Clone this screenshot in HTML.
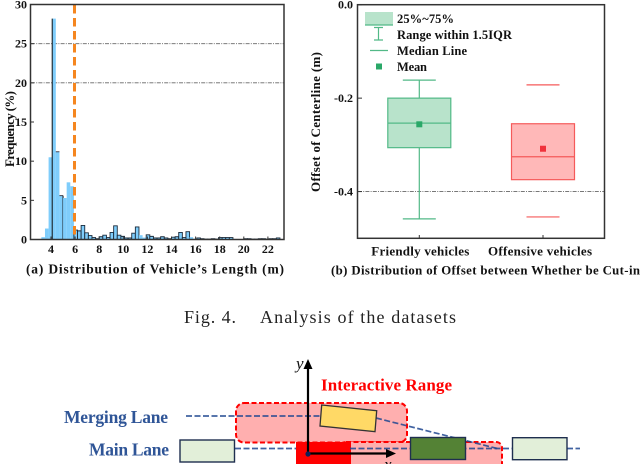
<!DOCTYPE html>
<html>
<head>
<meta charset="utf-8">
<style>
html,body{margin:0;padding:0;background:#fff;width:640px;height:464px;overflow:hidden}
svg{display:block;font-family:"Liberation Serif",serif;filter:blur(0.3px)}
</style>
</head>
<body>
<svg id="root" width="640" height="464" viewBox="0 0 640 464" xmlns="http://www.w3.org/2000/svg">
  <g id="hist"></g>
  <g id="box"></g>

  <text x="184" y="323" font-size="18" fill="#222" textLength="52">Fig. 4.</text>
  <text x="260" y="323" font-size="18" fill="#222" textLength="196">Analysis of the datasets</text>

  <g>
    <rect x="236" y="403" width="171" height="39.5" rx="8" fill="#ffafaf" stroke="#f00" stroke-width="2" stroke-dasharray="5 2.5"/>
    <rect x="340" y="442" width="162" height="30" rx="6" fill="#ffafaf" stroke="#f00" stroke-width="2" stroke-dasharray="5 2.5"/>
    <rect x="296" y="442" width="55" height="22" fill="#f00"/>
    <path d="M186 416H322M376 418L498 448.7" fill="none" stroke="#1f4690" stroke-width="1.7" stroke-dasharray="6 2.5" opacity=".85"/>
    <path d="M235 448.5H296M350 448.5H512M567 448.5H580" fill="none" stroke="#1f4690" stroke-width="1.7" stroke-dasharray="6 2.5" opacity=".85"/>
    <rect x="180" y="440" width="54.5" height="22" fill="#e2efd9" stroke="#1f2f4f" stroke-width="1.4"/>
    <rect x="410.5" y="437.5" width="55" height="22" fill="#548235" stroke="#1f2f4f" stroke-width="1.4"/>
    <rect x="512.5" y="437.7" width="54.5" height="22" fill="#e2efd9" stroke="#1f2f4f" stroke-width="1.4"/>
    <polygon points="321.7,405 376.7,410.7 375,431.7 320,426" fill="#ffd966" stroke="#333" stroke-width="1.3"/>
    <path d="M308 454V367" stroke="#000" stroke-width="2.2"/>
    <polygon points="308,359 303.5,369 312.5,369" fill="#000"/>
    <path d="M308 453.5H388" stroke="#000" stroke-width="2.2"/>
    <polygon points="396,453.5 386,449 386,458" fill="#000"/>
    <circle cx="308" cy="454" r="2.6" fill="#10205a"/>
    <text x="296" y="369" font-size="17" font-style="italic" fill="#111">y</text>
    <text x="384" y="470" font-size="17" font-style="italic" fill="#111">x</text>
    <text x="64" y="423" font-size="17.5" font-weight="bold" fill="#2f5597" textLength="104">Merging Lane</text>
    <text x="89" y="455.5" font-size="17.5" font-weight="bold" fill="#2f5597" textLength="80">Main Lane</text>
    <text x="321" y="390.5" font-size="17" font-weight="bold" fill="#f00" textLength="131">Interactive Range</text>
  </g>
</svg>
<script>
var NS = "http://www.w3.org/2000/svg";

// Histogram data
var histBinStart = 3.2;
var histBinWidth = 0.3;
var histValues = [0.3,1.4,10.5,28.2,11.2,5.6,5.3,7.3,6.8,1.2,1.1,1.8,0.85,0.5,0.25,0.1,0.35,0.55,0.25,0.9,1.75,0.55,0.4,0.2,0.2,0.8,1.6,0.55,0.25,0.6,0.4,0.2,0.2,0.35,0.2,0.1,0.3,0.35,0.9,0.25,1.0,0.3,0.1,0.2,0.1,0.05,0.05,0.1,0.05,0.25,0.25,0.25,0.25,0.05,0.05,0.05,0.1,0.1,0.05,0.05,0.1,0.1,0.05,0.1,0.1,0.2];
var histLightBins = [1,2,6,7,8,27,28,41,42,53,54,55];
var histXTicks = [4,6,8,10,12,14,16,18,20,22];
var histYTicks = [0,5,10,15,20,25,30];
var histRefLines = [20,25];
var histCutoff = 5.95;

// Box plot data
var boxCategories = ["Friendly vehicles","Offensive vehicles"];
var boxQ1 = [-0.306,-0.3745];
var boxQ3 = [-0.2,-0.2548];
var boxMedian = [-0.2535,-0.3254];
var boxMean = [-0.256,-0.3083];
var boxLow = [-0.4585,-0.4543];
var boxHigh = [-0.1615,-0.1716];
var boxShowStem = [true,false];
var boxYTicks = [0,-0.2,-0.4];
var boxYLabels = ["0.0","-0.2","-0.4"];
var boxRefLine = -0.4;

function histX(v){ return 51 + (v - 4) * 12.05; }
function histY(v){ return 239.5 - v * 7.833; }
function boxY(v){ return 4.7 - v * 467.2; }
function boxX(i){ return 419.3 + i * 123.7; }

function add(parent, tag, attrs, text){
  var el = document.createElementNS(NS, tag);
  for (var k in attrs) el.setAttribute(k, attrs[k]);
  if (text !== undefined) el.textContent = text;
  parent.appendChild(el);
  return el;
}

var hist = document.getElementById("hist");
var box = document.getElementById("box");
var el;

// ---- histogram ----
histRefLines.forEach(function(v){
  el = add(hist, "line", {x1:31, x2:284, y1:histY(v), y2:histY(v), stroke:"#666", "stroke-width":0.9, "stroke-dasharray":"4 1.2 1 1.2"});
  
  
});
histValues.forEach(function(v, i){
  var x0 = histX(histBinStart + i * histBinWidth);
  var x1 = histX(histBinStart + (i + 1) * histBinWidth);
  el = add(hist, "rect", {x:x0, y:histY(v), width:x1 - x0, height:239.5 - histY(v), fill:"#7fcdfb"});
  
  
  if (i >= 9 && histLightBins.indexOf(i) < 0) {
    el = add(hist, "path", {d:"M"+x0+" 239.5V"+histY(v)+"H"+x1+"V239.5", fill:"none", stroke:"#1a2a3a", "stroke-width":0.9});
    
    
  }
  if (i === 3) {
    el = add(hist, "line", {x1:x0, x2:x0, y1:histY(v), y2:239.5, stroke:"#111", "stroke-width":1});
    
    
  }
  if (i === 4 || i === 5) {
    el = add(hist, "line", {x1:x0, x2:x1, y1:histY(v), y2:histY(v), stroke:"#334", "stroke-width":0.9});
    
    
  }
  if (i === 5) {
    el = add(hist, "line", {x1:x1, x2:x1, y1:histY(v), y2:239.5, stroke:"#111", "stroke-width":1});
    
    
  }
});
el = add(hist, "line", {x1:histX(histCutoff), x2:histX(histCutoff), y1:5, y2:239, stroke:"#f5861f", "stroke-width":3, "stroke-dasharray":"8.5 4.5"});


el = add(hist, "rect", {x:30.5, y:4.5, width:253.5, height:235, fill:"none", stroke:"#333", "stroke-width":1.5});


histYTicks.forEach(function(v){
  el = add(hist, "line", {x1:30.5, x2:34, y1:histY(v), y2:histY(v), stroke:"#333", "stroke-width":1});
  
  
  el = add(hist, "text", {x:27, y:histY(v) + 4, "text-anchor":"end", "font-size":12, "font-weight":"bold", fill:"#111"}, String(v));
  
  
});
histXTicks.forEach(function(v){
  el = add(hist, "line", {x1:histX(v), x2:histX(v), y1:239.5, y2:236.5, stroke:"#333", "stroke-width":1});
  
  
  el = add(hist, "text", {x:histX(v), y:253, "text-anchor":"middle", "font-size":12, "font-weight":"bold", fill:"#111"}, String(v));
  
  
});
el = add(hist, "text", {transform:"translate(14,129) rotate(-90)", "text-anchor":"middle", "font-size":13, "font-weight":"bold", fill:"#111", textLength:76}, "Frequency (%)");


el = add(hist, "text", {x:26, y:273.5, "font-size":13.5, "font-weight":"bold", fill:"#111", textLength:258}, "(a) Distribution of Vehicle\u2019s Length (m)");



// ---- box plot ----
el = add(box, "line", {x1:358, x2:605, y1:boxY(boxRefLine), y2:boxY(boxRefLine), stroke:"#666", "stroke-width":0.9, "stroke-dasharray":"4 1.2 1 1.2"});


var boxStroke = ["#52b987","#f55a5a"];
var boxFill = ["#b8e3cb","#ffb8b8"];
var boxMeanColor = ["#2aa868","#f0323c"];
boxCategories.forEach(function(name, i){
  var cx = boxX(i);
  var c = boxStroke[i];
  if (boxShowStem[i]) {
    el = add(box, "line", {x1:cx, x2:cx, y1:boxY(boxHigh[i]), y2:boxY(boxLow[i]), stroke:c, "stroke-width":1.2});
    
    
  }
  el = add(box, "line", {x1:cx - 16.5, x2:cx + 16.5, y1:boxY(boxHigh[i]), y2:boxY(boxHigh[i]), stroke:c, "stroke-width":1.2});
  
  
  el = add(box, "line", {x1:cx - 16.5, x2:cx + 16.5, y1:boxY(boxLow[i]), y2:boxY(boxLow[i]), stroke:c, "stroke-width":1.2});
  
  
  el = add(box, "rect", {x:cx - 31.5, y:boxY(boxQ3[i]), width:63, height:boxY(boxQ1[i]) - boxY(boxQ3[i]), fill:boxFill[i], stroke:c, "stroke-width":1.2});
  
  
  el = add(box, "line", {x1:cx - 31.5, x2:cx + 31.5, y1:boxY(boxMedian[i]), y2:boxY(boxMedian[i]), stroke:c, "stroke-width":1.2});
  
  
  el = add(box, "rect", {x:cx - 3, y:boxY(boxMean[i]) - 3, width:6, height:6, fill:boxMeanColor[i]});
  
  
  el = add(box, "line", {x1:cx, x2:cx, y1:238.3, y2:235, stroke:"#333", "stroke-width":1});
  
  
  el = add(box, "text", {x:cx + (i ? -3 : 1), y:255.5, "text-anchor":"middle", "font-size":13, "font-weight":"bold", fill:"#111", textLength:i ? 104 : 98}, name);
  
  
});
el = add(box, "rect", {x:357.5, y:4.7, width:247, height:233.6, fill:"none", stroke:"#333", "stroke-width":1.5});


boxYTicks.forEach(function(v, i){
  el = add(box, "line", {x1:357.5, x2:362, y1:boxY(v), y2:boxY(v), stroke:"#333", "stroke-width":1});
  
  
  el = add(box, "text", {x:353, y:boxY(v) + 4, "text-anchor":"end", "font-size":12, "font-weight":"bold", fill:"#111"}, boxYLabels[i]);
  
  
});
el = add(box, "text", {transform:"translate(320,122) rotate(-90)", "text-anchor":"middle", "font-size":13, "font-weight":"bold", fill:"#111", textLength:140}, "Offset of Centerline (m)");


el = add(box, "text", {x:331, y:274.5, "font-size":12.8, "font-weight":"bold", fill:"#111", textLength:309}, "(b) Distribution of Offset between Whether be Cut-in");



// ---- legend ----
el = add(box, "rect", {x:365, y:12, width:28, height:12.5, fill:"#b8e3cb"});


el = add(box, "line", {x1:365, x2:393, y1:25, y2:25, stroke:"#52b987", "stroke-width":1.2});


el = add(box, "path", {d:"M374 27.5H383M378.5 27.5V40M374 40H383", fill:"none", stroke:"#52b987", "stroke-width":1.2});


el = add(box, "line", {x1:370, x2:388, y1:50.5, y2:50.5, stroke:"#52b987", "stroke-width":1.2});


el = add(box, "rect", {x:376, y:63.5, width:6, height:6, fill:"#2aa868"});


el = add(box, "text", {x:397, y:23, "font-size":12.5, "font-weight":"bold", fill:"#111", textLength:57}, "25%~75%");


el = add(box, "text", {x:397, y:39, "font-size":12.5, "font-weight":"bold", fill:"#111", textLength:115}, "Range within 1.5IQR");


el = add(box, "text", {x:397, y:55, "font-size":12.5, "font-weight":"bold", fill:"#111", textLength:70}, "Median Line");


el = add(box, "text", {x:397, y:71, "font-size":12.5, "font-weight":"bold", fill:"#111", textLength:30}, "Mean");


</script>
</body>
</html>
